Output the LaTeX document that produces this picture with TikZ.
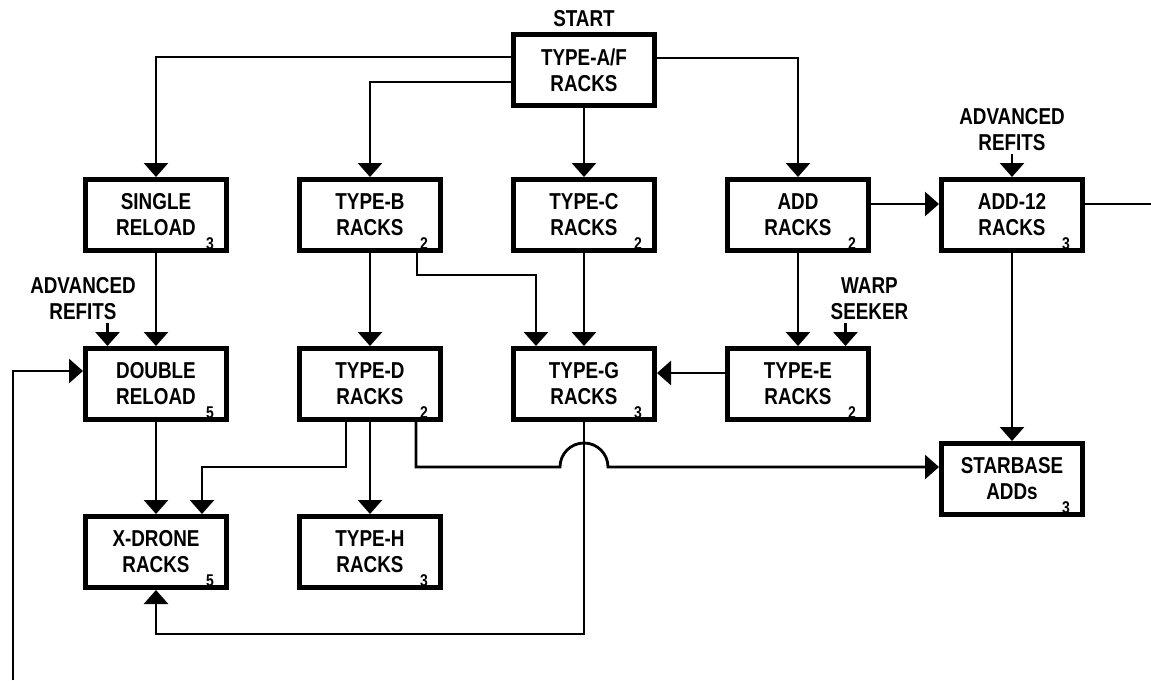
\documentclass[tikz,border=0pt]{standalone}
\usepackage{fontspec}
\setmainfont{Liberation Sans}[FakeStretch=0.82]
\usetikzlibrary{arrows.meta,positioning}
\tikzset{
  flow/.style={-{Triangle[length=7pt,width=12pt]}, draw=black, line width=1.4pt},
  link/.style={draw=black, line width=1.4pt},
  rack/.style={draw=black, fill=white, line width=2.5pt, minimum width=70.5pt, minimum height=35.5pt,
    align=center, font=\bfseries\fontsize{11.5}{13}\selectfont, inner sep=0pt},
  note/.style={align=center, font=\bfseries\fontsize{11.5}{13}\selectfont, inner sep=0pt},
  count/.style={font=\bfseries\fontsize{8.5}{9}\selectfont, inner sep=0pt},
}

\begin{document}
\begin{tikzpicture}[x=0.5pt, y=-0.5pt]
  \useasboundingbox[fill=white] (0,0) rectangle (1151,680);

  % Start box and the first row of racks.
  \node[rack] (typeAF) at (584,70) {TYPE-A/F\\RACKS};
  \node[note, above=2.5pt of typeAF] (startL) {START};
  \node[rack, below=34.5pt of typeAF] (typeC) {TYPE-C\\RACKS};
  \node[rack, left=34pt of typeC] (typeB) {TYPE-B\\RACKS};
  \node[rack, left=34pt of typeB] (single) {SINGLE\\RELOAD};
  \node[rack, right=34pt of typeC] (addR) {ADD\\RACKS};
  \node[rack, right=34pt of addR] (add12) {ADD-12\\RACKS};

  % Second and third rows.
  \node[rack, below=46.5pt of single] (double) {DOUBLE\\RELOAD};
  \node[rack, below=46.5pt of typeB] (typeD) {TYPE-D\\RACKS};
  \node[rack, below=46.5pt of typeC] (typeG) {TYPE-G\\RACKS};
  \node[rack, below=46.5pt of addR] (typeE) {TYPE-E\\RACKS};
  \node[rack, below=46pt of double] (xdrone) {X-DRONE\\RACKS};
  \node[rack, below=46pt of typeD] (typeH) {TYPE-H\\RACKS};
  \node[rack, below=94pt of add12] (starbase) {STARBASE\\ADDs};

  % Side inputs.
  \node[note, above=13pt of double, xshift=-36.5pt] (refitsL) {ADVANCED\\REFITS};
  \node[note, above=13pt of add12] (refitsR) {ADVANCED\\REFITS};
  \node[note, above=13pt of typeE, xshift=35.75pt] (warp) {WARP\\SEEKER};

  % Small counts in the lower right corners.
  \foreach \n/\v in {single/3, typeB/2, typeC/2, addR/2, add12/3, double/5,
                     typeD/2, typeG/3, typeE/2, xdrone/5, typeH/3, starbase/3}
    \node[count] at ([shift={(-9.5pt,4.5pt)}]\n.south east) {\v};

  % Helper points for offset connectors.
  \coordinate (feedL) at ([xshift=-24.25pt]double.north);
  \coordinate (warpIn) at ([xshift=23.75pt]typeE.north);
  \path ([yshift=6pt]starbase.west) coordinate (sbIn);
  \coordinate (hop) at (typeG.south |- sbIn);
  \path ([yshift=5.5pt]add12.east) coordinate (add12Out);
  \coordinate (exitR) at (add12Out -| 1151,0);
  \coordinate (loopIn) at (13,680);

  % Branches out of the start box.
  \draw[flow] ([yshift=6.5pt]typeAF.west) -| (single.north);
  \draw[flow] ([yshift=-6pt]typeAF.west) -| (typeB.north);
  \draw[flow] (typeAF.south) -- (typeC.north);
  \draw[flow] ([yshift=6pt]typeAF.east) -| (addR.north);

  % Flow between the racks.
  \draw[flow] ([yshift=5.5pt]addR.east) -- ([yshift=5.5pt]add12.west);
  \draw[link] (add12Out) -- (exitR);
  \draw[flow, shorten <=1.5pt] (refitsR.south) -- (add12.north);
  \draw[flow] (single.south) -- (double.north);
  \draw[flow, shorten <=1.5pt] (refitsL.south -| feedL) -- (feedL);
  \draw[flow] (typeB.south) -- (typeD.north);
  \draw[flow] ([xshift=23.5pt]typeB.south) -- ++(0pt,-11pt) -| ([xshift=-24pt]typeG.north);
  \draw[flow] (typeC.south) -- (typeG.north);
  \draw[flow] (addR.south) -- (typeE.north);
  \draw[flow, shorten <=1.5pt] (warp.south -| warpIn) -- (warpIn);
  \draw[flow] ([yshift=5.5pt]typeE.west) -- ([yshift=5.5pt]typeG.east);
  \draw[flow] (add12.south) -- (starbase.north);
  \draw[flow] (loopIn) |- ([yshift=6.5pt]double.west);
  \draw[flow] (double.south) -- (xdrone.north);
  \draw[flow] ([xshift=-12pt]typeD.south) -- ++(0pt,-22.5pt) -| ([xshift=23pt]xdrone.north);
  \draw[flow] (typeD.south) -- (typeH.north);
  \draw[flow] ([xshift=23pt]typeD.south) |- ([xshift=-12pt]hop)
    arc[start angle=180, end angle=0, radius=12pt] -- (sbIn);
  \draw[flow] (typeG.south) -- ++(0pt,-106pt) -| (xdrone.south);

\end{tikzpicture}
\end{document}
